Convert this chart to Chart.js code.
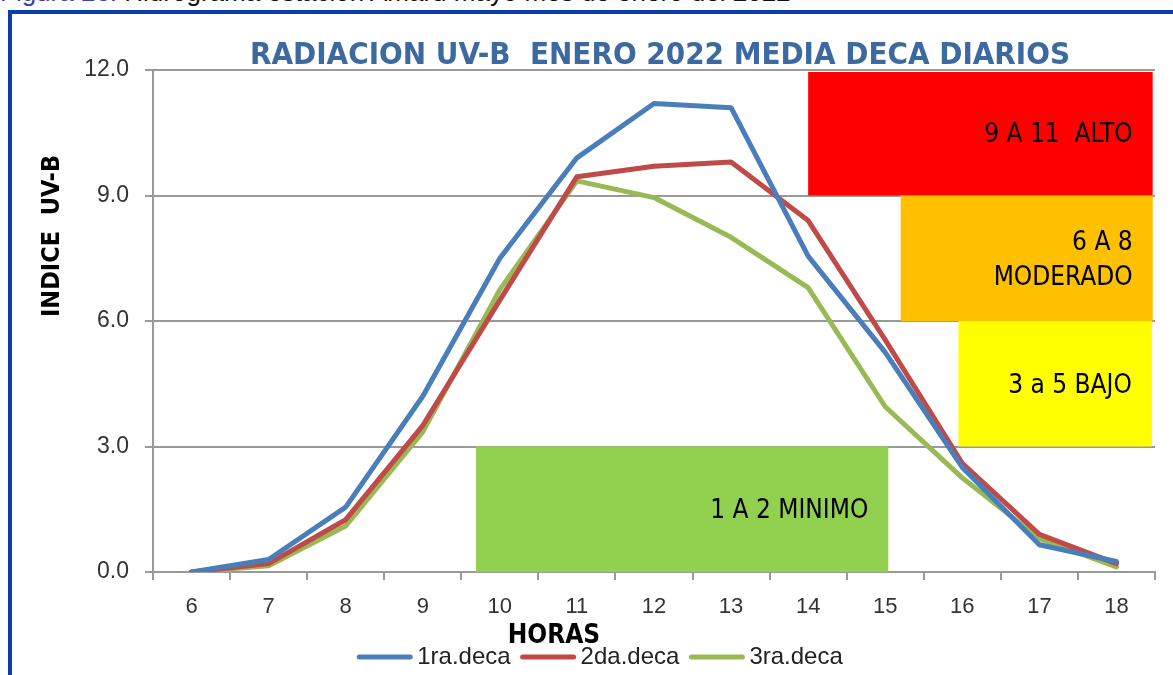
<!DOCTYPE html>
<html>
<head>
<meta charset="utf-8">
<script src="https://cdn.jsdelivr.net/npm/chart.js@4.4.1/dist/chart.umd.min.js"></script>
<style>
  html, body { margin: 0; padding: 0; background: #fff; overflow: hidden; }
  #wrap { position: relative; width: 1173px; height: 675px; }
  #caption { position: absolute; left: 0; top: -23px; font: 26px "Liberation Sans", Arial, sans-serif; white-space: nowrap; color: #111; }
  #caption span { color: #4040a0; }
  #frame { position: absolute; left: 8px; top: 10px; width: 1165px; height: 665px; box-sizing: border-box;
           border-top: 4px solid #0b3da8; border-left: 4px solid #0b3da8; }
  canvas { position: absolute; left: 0; top: 0; }
</style>
</head>
<body>
<div id="wrap">
  <div id="caption"><span>Figura 26.</span> Hidrograma estación Amaru mayo mes de enero del 2022</div>
  <div id="frame"></div>
  <canvas id="graficoUV" width="1173" height="675"></canvas>
</div>
<script>
// Datos
const horas = ['6', '7', '8', '9', '10', '11', '12', '13', '14', '15', '16', '17', '18'];
const deca1 = [0.0, 0.3, 1.55, 4.2, 7.5, 9.9, 11.2, 11.1, 7.55, 5.25, 2.5, 0.65, 0.25];
const deca2 = [0.0, 0.2, 1.25, 3.5, 6.5, 9.45, 9.7, 9.8, 8.4, 5.55, 2.6, 0.9, 0.2];
const deca3 = [0.0, 0.15, 1.1, 3.35, 6.75, 9.35, 8.95, 8.0, 6.8, 3.95, 2.25, 0.8, 0.12];
const nombres = ['1ra.deca', '2da.deca', '3ra.deca'];

// Rangos del indice UV
const zonaTextos = [['9 A 11  ALTO'], ['6 A 8', 'MODERADO'], ['3 a 5 BAJO'], ['1 A 2 MINIMO']];
const zonaDesde = [9, 6, 3, 0];
const zonaHasta = [12, 9, 6, 3];

// Posicion horizontal de cada recuadro (en unidades de categoria) y color
const recuadros = [
  { x0: 8.0, x1: 12.47, color: '#ff0000' },
  { x0: 9.2, x1: 12.47, color: '#ffc000' },
  { x0: 9.95, x1: 12.46, color: '#ffff00' },
  { x0: 3.69, x1: 9.04, color: '#92d050' }
];

const fuenteAngosta = '"Liberation Sans Narrow", "DejaVu Sans Condensed", sans-serif';
const fuente = '"Liberation Sans", Arial, sans-serif';

const zonasPlugin = {
  id: 'zonas',
  beforeDatasetsDraw(chart) {
    const { ctx, scales: { x, y } } = chart;
    ctx.save();
    recuadros.forEach((r, i) => {
      const left = x.getPixelForValue(r.x0);
      const right = x.getPixelForValue(r.x1);
      const top = y.getPixelForValue(zonaHasta[i]);
      const bottom = y.getPixelForValue(zonaDesde[i]);
      ctx.fillStyle = r.color;
      ctx.fillRect(left, top + (i === 0 ? 2 : 0), right - left, bottom - top - (i === 0 ? 2 : 0));
    });
    ctx.restore();
  },
  afterDatasetsDraw(chart) {
    const { ctx, scales: { x, y } } = chart;
    ctx.save();
    ctx.fillStyle = '#000';
    ctx.font = '26px ' + fuenteAngosta;
    ctx.textAlign = 'right';
    ctx.textBaseline = 'middle';
    recuadros.forEach((r, i) => {
      const right = x.getPixelForValue(r.x1) - 20;
      const mid = (y.getPixelForValue(zonaHasta[i]) + y.getPixelForValue(zonaDesde[i])) / 2;
      const lineas = zonaTextos[i];
      lineas.forEach((t, k) => {
        ctx.fillText(t, right, mid + (k - (lineas.length - 1) / 2) * 35 + 2);
      });
    });
    ctx.restore();
  }
};

const textosPlugin = {
  id: 'textos',
  afterDraw(chart) {
    const { ctx } = chart;
    ctx.save();
    // titulo
    ctx.fillStyle = '#3c69a0';
    ctx.font = 'bold 31px ' + fuenteAngosta;
    ctx.textAlign = 'center';
    ctx.textBaseline = 'middle';
    ctx.fillText('RADIACION UV-B  ENERO 2022 MEDIA DECA DIARIOS', 660, 56);

    // titulo eje Y
    ctx.fillStyle = '#000';
    ctx.font = 'bold 25px ' + fuenteAngosta;
    ctx.translate(52, 236);
    ctx.rotate(-Math.PI / 2);
    ctx.fillText('INDICE  UV-B', 0, 0);
    ctx.setTransform(1, 0, 0, 1, 0, 0);

    // titulo eje X
    ctx.font = 'bold 26px ' + fuenteAngosta;
    ctx.fillText('HORAS', 554, 636);

    // leyenda
    ctx.font = '24px ' + fuente;
    ctx.textAlign = 'left';
    const largo = 55, sep = 5, entre = 10;
    const items = chart.data.datasets.map(d => ({ d, w: largo + sep + ctx.measureText(d.label).width }));
    const total = items.reduce((a, it) => a + it.w, 0) + entre * (items.length - 1);
    let cx = 600 - total / 2;
    const ly = 657;
    items.forEach(it => {
      ctx.strokeStyle = it.d.borderColor;
      ctx.lineWidth = 5;
      ctx.lineCap = 'round';
      ctx.beginPath();
      ctx.moveTo(cx + 2, ly);
      ctx.lineTo(cx + largo - 2, ly);
      ctx.stroke();
      ctx.fillStyle = '#222';
      ctx.fillText(it.d.label, cx + largo + sep, ly);
      cx += it.w + entre;
    });
    ctx.restore();
  }
};

const ctx = document.getElementById('graficoUV').getContext('2d');
new Chart(ctx, {
  type: 'line',
  data: {
    labels: horas,
    datasets: [
      { label: nombres[0], data: deca1, borderColor: '#4a7ebb' },
      { label: nombres[1], data: deca2, borderColor: '#be4b48' },
      { label: nombres[2], data: deca3, borderColor: '#98b954' }
    ]
  },
  options: {
    responsive: false,
    animation: false,
    layout: { padding: { top: 70, right: 18, left: 0, bottom: 0 } },
    elements: {
      line: { borderWidth: 5, tension: 0, borderJoinStyle: 'round', borderCapStyle: 'round' },
      point: { radius: 0 }
    },
    plugins: { legend: { display: false }, tooltip: { enabled: false } },
    scales: {
      x: {
        offset: true,
        grid: { offset: true, drawOnChartArea: false, color: '#999', lineWidth: 2, tickLength: 8 },
        border: { color: '#999', width: 2 },
        ticks: { color: '#333', font: { family: fuente, size: 22 }, padding: 14, maxRotation: 0, autoSkip: false },
        afterFit: s => { s.height = 103; }
      },
      y: {
        min: 0,
        max: 12,
        ticks: { stepSize: 3, callback: v => v.toFixed(1), color: '#333', font: { family: fuente, size: 23 }, padding: 16 },
        grid: { color: '#999', lineWidth: 2, tickLength: 8 },
        border: { color: '#999', width: 2 },
        afterFit: s => { s.width = 153; }
      }
    }
  },
  plugins: [zonasPlugin, textosPlugin]
});
</script>
</body>
</html>
